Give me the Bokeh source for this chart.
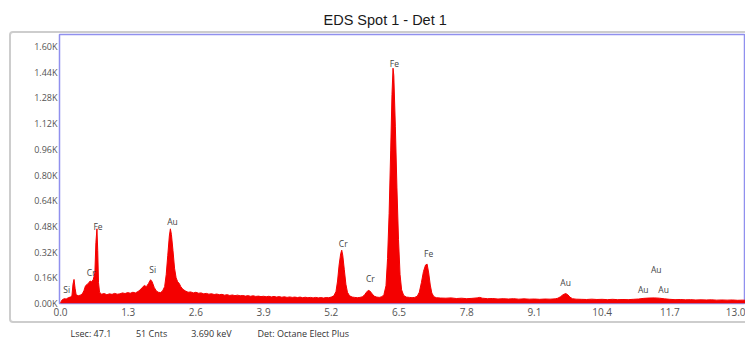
from bokeh.plotting import figure
from bokeh.layouts import column
from bokeh.models import Range1d, FixedTicker, ColumnDataSource
from bokeh.core.properties import value
from bokeh.embed import file_html
from bokeh.resources import INLINE

# ---------------- data ----------------
energy_kev = [
    0.00, 0.03, 0.07, 0.11, 0.15, 0.19, 0.22, 0.24, 0.26, 0.28, 0.30, 0.34, 0.38, 0.42, 0.45,
    0.48, 0.51, 0.54, 0.57, 0.60, 0.63, 0.66, 0.68, 0.70, 0.715, 0.73, 0.75, 0.79, 0.84, 0.89,
    0.94, 0.99, 1.04, 1.09, 1.14, 1.19, 1.24, 1.29, 1.34, 1.39, 1.44, 1.49, 1.53, 1.57, 1.61,
    1.65, 1.69, 1.73, 1.76, 1.80, 1.84, 1.88, 1.92, 1.96, 2.00, 2.03, 2.06, 2.09, 2.11, 2.13,
    2.16, 2.19, 2.22, 2.25, 2.28, 2.31, 2.35, 2.40, 2.45, 2.50, 2.55, 2.60, 2.65, 2.70, 2.75,
    2.80, 2.85, 2.90, 2.95, 3.00, 3.05, 3.10, 3.15, 3.20, 3.25, 3.30, 3.35, 3.40, 3.45, 3.50,
    3.55, 3.60, 3.65, 3.70, 3.75, 3.80, 3.85, 3.90, 3.95, 4.00, 4.05, 4.10, 4.15, 4.20, 4.25,
    4.30, 4.35, 4.40, 4.45, 4.50, 4.55, 4.60, 4.65, 4.70, 4.75, 4.80, 4.85, 4.90, 4.95, 5.00,
    5.05, 5.10, 5.15, 5.20, 5.25, 5.29, 5.32, 5.35, 5.38, 5.40, 5.42, 5.45, 5.48, 5.51, 5.55,
    5.60, 5.65, 5.70, 5.75, 5.80, 5.84, 5.88, 5.91, 5.94, 5.98, 6.02, 6.07, 6.12, 6.17, 6.21,
    6.25, 6.28, 6.31, 6.34, 6.365, 6.385, 6.40, 6.43, 6.46, 6.49, 6.52, 6.55, 6.59, 6.64, 6.70,
    6.75, 6.80, 6.85, 6.89, 6.93, 6.97, 7.01, 7.04, 7.07, 7.10, 7.13, 7.17, 7.22, 7.30, 7.40,
    7.50, 7.60, 7.70, 7.80, 7.90, 8.00, 8.05, 8.10, 8.20, 8.30, 8.40, 8.50, 8.60, 8.70, 8.80,
    8.90, 9.00, 9.10, 9.20, 9.30, 9.40, 9.50, 9.55, 9.60, 9.65, 9.70, 9.74, 9.78, 9.83, 9.90,
    10.0, 10.1, 10.2, 10.3, 10.4, 10.5, 10.6, 10.7, 10.8, 10.9, 11.0, 11.1, 11.2, 11.3, 11.4,
    11.5, 11.6, 11.7, 11.8, 11.9, 12.0, 12.1, 12.2, 12.3, 12.4, 12.5, 12.6, 12.7, 12.8, 12.9,
    13.0, 13.1, 13.15,
]
counts = [
    5, 22, 30, 28, 36, 40, 48, 120, 150, 95, 55, 48, 52, 60, 80,
    110, 118, 128, 140, 135, 150, 190, 380, 465, 330, 130, 70, 58, 62, 55,
    60, 57, 63, 58, 60, 66, 62, 68, 64, 70, 66, 75, 85, 100, 112,
    105, 125, 148, 135, 100, 78, 70, 68, 78, 105, 180, 300, 420, 465, 430,
    330, 220, 160, 135, 125, 105, 88, 78, 70, 72, 66, 70, 64, 66, 60,
    63, 58, 61, 56, 59, 55, 57, 52, 55, 50, 53, 49, 52, 48, 50,
    46, 49, 45, 48, 44, 46, 43, 45, 42, 45, 41, 44, 40, 43, 39,
    42, 38, 41, 38, 40, 37, 40, 36, 39, 36, 38, 35, 38, 35, 37,
    34, 37, 36, 40, 48, 75, 140, 240, 310, 332, 300, 210, 120, 70, 48,
    40, 38, 36, 38, 42, 55, 72, 82, 78, 62, 46, 40, 38, 42, 55,
    110, 280, 560, 950, 1300, 1465, 1420, 1100, 720, 400, 180, 85, 50, 40, 38,
    36, 38, 45, 70, 130, 200, 240, 245, 190, 115, 65, 42, 36, 34, 33,
    35, 31, 33, 30, 32, 35, 38, 33, 30, 31, 28, 30, 28, 30, 27,
    29, 27, 28, 26, 28, 27, 29, 33, 42, 55, 62, 55, 40, 30, 27,
    26, 25, 27, 25, 26, 24, 26, 24, 25, 24, 26, 28, 32, 34, 35,
    33, 29, 26, 24, 25, 23, 24, 22, 23, 22, 23, 21, 22, 21, 22,
    20, 21, 20,
]

# peak labels: element, energy (keV), counts where the label sits
peak_names = ["Si", "Cr", "Fe", "Si", "Au", "Cr", "Cr", "Fe", "Fe", "Au", "Au", "Au", "Au"]
peak_energy = [0.12, 0.59, 0.72, 1.77, 2.15, 5.43, 5.95, 6.41, 7.07, 9.70, 11.19, 11.44, 11.58]
peak_label_counts = [90, 193, 480, 214, 512, 374, 155, 1495, 310, 131, 87, 212, 90]

x_ticks = [0.0, 1.3, 2.6, 3.9, 5.2, 6.5, 7.8, 9.1, 10.4, 11.7, 13.0]
x_tick_labels = ["0.0", "1.3", "2.6", "3.9", "5.2", "6.5", "7.8", "9.1", "10.4", "11.7", "13.0"]
y_ticks = [0, 160, 320, 480, 640, 800, 960, 1120, 1280, 1440, 1600]
y_tick_labels = ["0.00K", "0.16K", "0.32K", "0.48K", "0.64K", "0.80K", "0.96K",
                 "1.12K", "1.28K", "1.44K", "1.60K"]

title_text = "EDS Spot 1 - Det 1"
status_texts = ["Lsec: 47.1", "51 Cnts", "3.690 keV", "Det: Octane Elect Plus"]

font = "Open Sans"

# ---------------- main spectrum figure ----------------
frame_css = """
:host { position: relative; }
:host::after {
  content: "";
  position: absolute;
  left: 9px; top: 31px; right: -20px; bottom: 0px;
  border: 2px solid #cdcdcd;
  border-radius: 4px;
  pointer-events: none;
}
"""

p = figure(width=745, height=323, output_backend="svg", toolbar_location=None,
           x_range=Range1d(-0.019, 13.153), y_range=Range1d(0, 1675),
           min_border_left=59, min_border_right=0, min_border_top=34, min_border_bottom=20,
           stylesheets=[frame_css])

p.background_fill_color = "white"
p.border_fill_color = "white"
p.outline_line_color = "#9090ee"
p.outline_line_width = 1.5
p.xgrid.visible = False
p.ygrid.visible = False

p.title.text = title_text
p.title.align = "left"
p.title.offset = 264
p.title.standoff = 14
p.title.text_line_height = 0.8
p.title.text_font = "Liberation Sans"
p.title.text_font_size = "14.5px"
p.title.text_font_style = "normal"
p.title.text_color = "#1a1a1a"

src = ColumnDataSource(dict(e=energy_kev, c=counts))
p.varea(x="e", y1=0, y2="c", source=src, fill_color="#f40000")
p.line(x="e", y="c", source=src, line_color="#f40000", line_width=1)

lsrc = ColumnDataSource(dict(e=peak_energy, c=peak_label_counts, t=peak_names))
p.text(x="e", y="c", text="t", source=lsrc, text_font=value(font),
       text_font_size="8.5px", text_color="#444444", text_align="center",
       text_baseline="middle")

for ax, ticks, labels in ((p.xaxis[0], x_ticks, x_tick_labels), (p.yaxis[0], y_ticks, y_tick_labels)):
    ax.ticker = FixedTicker(ticks=ticks)
    ax.major_label_overrides = {t: l for t, l in zip(ticks, labels)}
    ax.axis_line_color = None
    ax.major_tick_line_color = None
    ax.minor_tick_line_color = None
    ax.major_tick_out = 0
    ax.major_tick_in = 0
    ax.minor_tick_out = 0
    ax.minor_tick_in = 0
    ax.major_label_text_font = font
    ax.major_label_text_color = "#555555"

p.xaxis.major_label_text_font_size = "10px"
p.xaxis.major_label_standoff = 4
p.yaxis.major_label_text_font_size = "9px"
p.yaxis.major_label_standoff = 2

# ---------------- status line strip ----------------
s = figure(width=745, height=17, output_backend="svg", toolbar_location=None,
           x_range=Range1d(0, 745), y_range=Range1d(0, 17),
           min_border_left=0, min_border_right=0, min_border_top=0, min_border_bottom=0)
s.axis.visible = False
s.grid.visible = False
s.outline_line_color = None
s.background_fill_color = "white"
s.border_fill_color = "white"

status_x = [12, 83, 143, 215]
ssrc = ColumnDataSource(dict(x=status_x, y=[7.5] * len(status_x), t=status_texts))
s.text(x="x", y="y", text="t", source=ssrc, text_font=value(font), text_font_size="9px",
       text_color="#333333", text_align="left", text_baseline="middle")

layout = column(p, s, spacing=0)
open("out.html", "w").write(file_html(layout, INLINE))
